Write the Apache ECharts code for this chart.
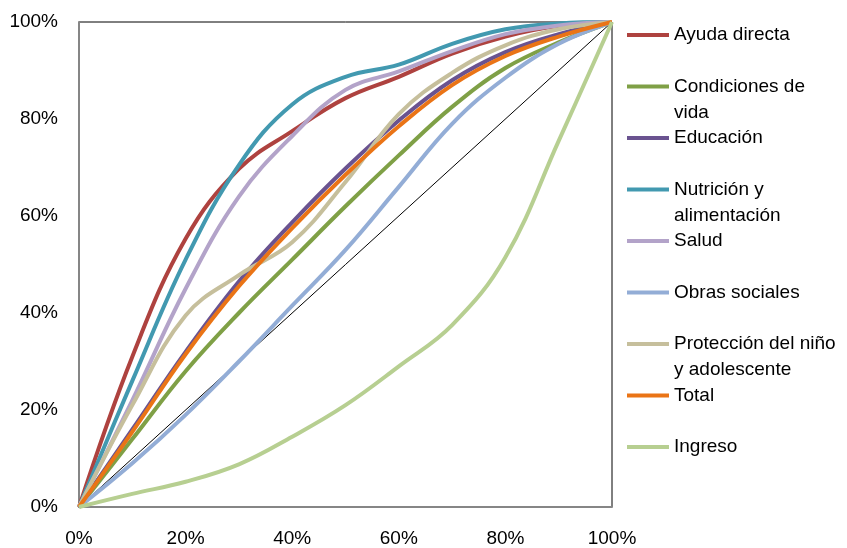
<!DOCTYPE html>
<html>
<head>
<meta charset="utf-8">
<script src="https://cdn.jsdelivr.net/npm/echarts@6/dist/echarts.min.js"></script>
<style>
  html, body { margin: 0; padding: 0; background: #fff; }
  #chart { width: 847px; height: 548px; }
</style>
</head>
<body>
<div id="chart"></div>
<script>
// Cumulative share of population (x) and cumulative share of each item (y), in %
const populationShare = [0, 10, 20, 30, 40, 50, 60, 70, 80, 90, 100];

const ayudaDirecta        = [0, 31, 55.3, 69.7, 77.5, 84.3, 88.7, 93.5, 97, 99.2, 100];
const condicionesDeVida   = [0, 14, 28, 40, 51, 62, 72.5, 82.5, 90.5, 95.8, 100];
const educacion           = [0, 16, 32, 46.5, 58.7, 69.8, 79.7, 88, 93.8, 97.5, 100];
const nutricion           = [0, 26, 51, 70.5, 83, 88.7, 91.2, 95.5, 98.5, 99.7, 100];
const salud               = [0, 22, 45, 64, 76.5, 86, 89.8, 94, 97.5, 99.3, 100];
const obrasSociales       = [0, 9, 19, 30, 41.5, 53, 66, 79, 88.5, 95.5, 100];
const proteccion          = [0, 21, 39.5, 47.8, 54.6, 67, 81, 89.5, 95.2, 98.5, 100];
const total               = [0, 15.5, 31.5, 45.5, 57.5, 68.5, 78.5, 87, 93, 97, 100];
const ingreso             = [0, 2.7, 5.2, 8.8, 14.5, 21, 29, 37.5, 51.5, 75.5, 100];

const equalityLine = [0, 100];

const seriesNames = [
  'Ayuda directa', 'Condiciones de vida', 'Educación', 'Nutrición y alimentación',
  'Salud', 'Obras sociales', 'Protección del niño y adolescente', 'Total', 'Ingreso'
];
const legendLabels = [
  'Ayuda directa', 'Condiciones de\nvida', 'Educación', 'Nutrición y\nalimentación',
  'Salud', 'Obras sociales', 'Protección del niño\ny adolescente', 'Total', 'Ingreso'
];
const axisTicks = [0, 20, 40, 60, 80, 100];

const seriesValues = [ayudaDirecta, condicionesDeVida, educacion, nutricion, salud,
                      obrasSociales, proteccion, total, ingreso];
const seriesColors = ['#AE423F', '#7FA046', '#6A5390', '#4299B0', '#B3A3C9',
                      '#93ADD6', '#C6BF9C', '#EA7416', '#B7CF91'];

const FONT = "'Liberation Sans', Arial, sans-serif";
const LINE_H = 26;

const series = [{
  name: 'equality',
  type: 'line',
  data: equalityLine.map(v => [v, v]),
  showSymbol: false,
  symbol: 'none',
  silent: true,
  lineStyle: { color: '#000', width: 1 },
  z: 1
}];
seriesNames.forEach((name, i) => {
  series.push({
    name,
    type: 'line',
    data: populationShare.map((x, k) => [x, seriesValues[i][k]]),
    smooth: 0.4,
    symbol: 'none',
    showSymbol: false,
    lineStyle: { color: seriesColors[i], width: 4 },
    itemStyle: { color: seriesColors[i] },
    z: 2 + i
  });
});

// One legend block per entry so that every entry keeps a regular vertical step.
// Wrapped names get an empty leading line so the key stays level with the first line.
const legends = seriesNames.map((name, i) => {
  const centre = 35 + 51.5 * i;
  const twoLines = legendLabels[i].indexOf('\n') >= 0;
  const label = twoLines ? '\n' + legendLabels[i] : legendLabels[i];
  return {
    data: [name],
    orient: 'vertical',
    left: 627,
    top: twoLines ? centre - 1.5 * LINE_H : centre - LINE_H / 2,
    padding: 0,
    icon: 'rect',
    itemWidth: 42,
    itemHeight: 4,
    selectedMode: false,
    formatter: () => label,
    textStyle: { fontFamily: FONT, fontSize: 19, color: '#000', lineHeight: LINE_H }
  };
});

const axisCommon = {
  type: 'value',
  min: 0,
  max: 100,
  interval: 20,
  axisLine: { show: true, lineStyle: { color: '#868686', width: 2 } },
  axisTick: { show: false },
  splitLine: { show: false },
  axisLabel: {
    fontFamily: FONT, fontSize: 19, color: '#000',
    formatter: v => axisTicks.indexOf(v) >= 0 ? v + '%' : ''
  }
};

const chart = echarts.init(document.getElementById('chart'), null, { renderer: 'canvas' });
chart.setOption({
  animation: false,
  backgroundColor: '#fff',
  grid: { left: 79, right: 235, top: 22, bottom: 38, show: true, borderColor: '#000', borderWidth: 1, backgroundColor: 'transparent' },
  xAxis: Object.assign({}, axisCommon, { axisLabel: Object.assign({}, axisCommon.axisLabel, { margin: 22 }) }),
  yAxis: Object.assign({}, axisCommon, { axisLabel: Object.assign({}, axisCommon.axisLabel, { margin: 21 }) }),
  legend: legends,
  series
});
</script>
</body>
</html>
